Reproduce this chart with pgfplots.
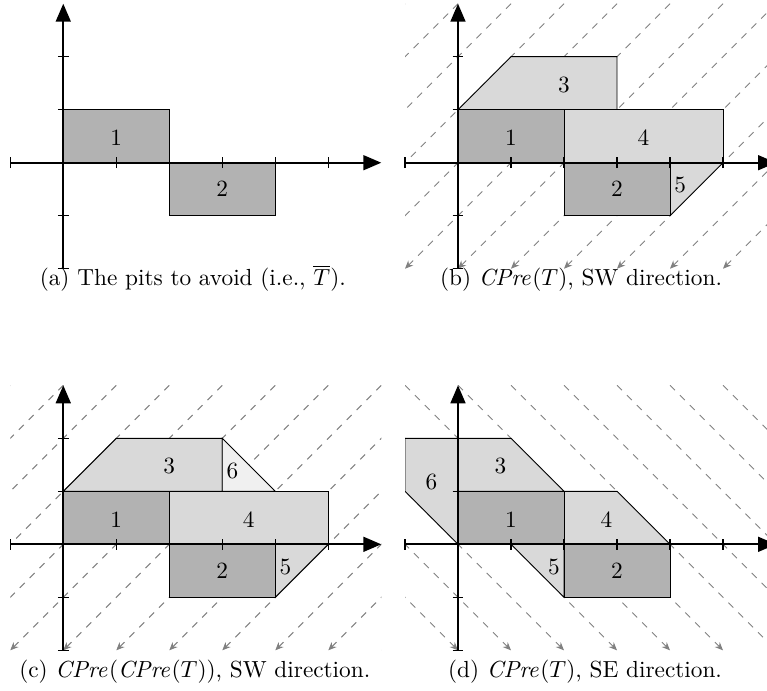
\documentclass[border=0pt]{standalone}
\usepackage{pgfplots}
\usepackage{pgfplotstable}
\pgfplotsset{compat=1.18}
\usetikzlibrary{arrows.meta}

\pgfplotsset{
  pane/.style={
    x=0.8cm, y=0.8cm,
    xmin=-1, xmax=6, ymin=-2, ymax=3,
    enlargelimits=false,
    axis lines*=middle, axis on top,
    axis line style={line width=0.8pt, -{Triangle[length=7.7pt,width=6.4pt]}},
    xtick={-1,1,2,3,4,5}, ytick={-2,-1,1,2},
    xticklabel=\empty, yticklabel=\empty,
    tick align=center, major tick length=0.16cm,
    every tick/.style={black, line width=0.6pt},
    anchor=origin,
  },
  dark/.style={draw=black, thin, fill=black!30},
  light/.style={draw=black, thin, fill=black!15},
  pale/.style={draw=black, thin, fill=black!6},
  rays/.style={gray, dashed, thin, -{Stealth[length=3.5pt,width=3pt]}},
}

% dashed guide lines, start point and direction
\pgfplotstableread{
x y u v
-1 3 -5 -5
0 3 -5 -5
1 3 -5 -5
2 3 -5 -5
3 3 -5 -5
4 3 -5 -5
5 3 -5 -5
6 3 -5 -5
7 3 -5 -5
8 3 -5 -5
9 3 -5 -5
10 3 -5 -5
11 3 -5 -5
}\swrays
\pgfplotstableread{
x y u v
-6 3 5 -5
-5 3 5 -5
-4 3 5 -5
-3 3 5 -5
-2 3 5 -5
-1 3 5 -5
0 3 5 -5
1 3 5 -5
2 3 5 -5
3 3 5 -5
4 3 5 -5
5 3 5 -5
6 3 5 -5
}\serays

\begin{document}
\begin{tikzpicture}

% (a)
\begin{axis}[pane, at={(0.955cm,7.959cm)}]
  \addplot[dark] coordinates {(0,0) (2,0) (2,1) (0,1)} -- cycle;
  \addplot[dark] coordinates {(2,0) (4,0) (4,-1) (2,-1)} -- cycle;
  \node at (axis cs:1,0.47) {1};
  \node at (axis cs:3,-0.5) {2};
\end{axis}

% (b)
\begin{axis}[pane, at={(6.913cm,7.959cm)}]
  \addplot[rays, quiver={u=\thisrow{u}, v=\thisrow{v}}] table {\swrays};
  \addplot[light] coordinates {(0,1) (1,2) (3,2) (3,1)} -- cycle;
  \addplot[light] coordinates {(2,0) (5,0) (5,1) (2,1)} -- cycle;
  \addplot[light] coordinates {(4,0) (5,0) (4,-1)} -- cycle;
  \addplot[dark] coordinates {(0,0) (2,0) (2,1) (0,1)} -- cycle;
  \addplot[dark] coordinates {(2,0) (4,0) (4,-1) (2,-1)} -- cycle;
  \node at (axis cs:1,0.47) {1};
  \node at (axis cs:3,-0.5) {2};
  \node at (axis cs:2,1.47) {3};
  \node at (axis cs:3.5,0.47) {4};
  \node at (axis cs:4.19,-0.43) {5};
\end{axis}

% (c)
\begin{axis}[pane, at={(0.955cm,2.199cm)}]
  \addplot[rays, quiver={u=\thisrow{u}, v=\thisrow{v}}] table {\swrays};
  \addplot[light] coordinates {(0,1) (1,2) (3,2) (3,1)} -- cycle;
  \addplot[pale] coordinates {(3,1) (3,2) (4,1)} -- cycle;
  \addplot[light] coordinates {(2,0) (5,0) (5,1) (2,1)} -- cycle;
  \addplot[light] coordinates {(4,0) (5,0) (4,-1)} -- cycle;
  \addplot[dark] coordinates {(0,0) (2,0) (2,1) (0,1)} -- cycle;
  \addplot[dark] coordinates {(2,0) (4,0) (4,-1) (2,-1)} -- cycle;
  \node at (axis cs:1,0.47) {1};
  \node at (axis cs:3,-0.5) {2};
  \node at (axis cs:2,1.47) {3};
  \node at (axis cs:3.5,0.47) {4};
  \node at (axis cs:4.19,-0.43) {5};
  \node at (axis cs:3.19,1.38) {6};
\end{axis}

% (d)
\begin{axis}[pane, at={(6.913cm,2.199cm)}]
  \addplot[rays, quiver={u=\thisrow{u}, v=\thisrow{v}}] table {\serays};
  \addplot[light] coordinates {(-1,1) (-1,2) (0,2) (0,0)} -- cycle;
  \addplot[light] coordinates {(0,1) (0,2) (1,2) (2,1)} -- cycle;
  \addplot[light] coordinates {(2,1) (3,1) (4,0) (2,0)} -- cycle;
  \addplot[light] coordinates {(1,0) (2,0) (2,-1)} -- cycle;
  \addplot[dark] coordinates {(0,0) (2,0) (2,1) (0,1)} -- cycle;
  \addplot[dark] coordinates {(2,0) (4,0) (4,-1) (2,-1)} -- cycle;
  \node at (axis cs:1,0.47) {1};
  \node at (axis cs:3,-0.5) {2};
  \node at (axis cs:0.8,1.47) {3};
  \node at (axis cs:2.8,0.47) {4};
  \node at (axis cs:1.81,-0.42) {5};
  \node at (axis cs:-0.5,1.17) {6};
\end{axis}

\node[anchor=base] at (2.91cm,6.10cm) {(a) The pits to avoid (i.e., $\overline{T}$).};
\node[anchor=base] at (8.77cm,6.10cm) {(b) $\mathit{CPre}(T)$, SW direction.};
\node[anchor=base] at (2.94cm,0.19cm) {(c) $\mathit{CPre}(\mathit{CPre}(T))$, SW direction.};
\node[anchor=base] at (8.83cm,0.19cm) {(d) $\mathit{CPre}(T)$, SE direction.};

\pgfresetboundingbox
\useasboundingbox (0,0) rectangle (11.577cm,10.415cm);
\end{tikzpicture}
\end{document}
